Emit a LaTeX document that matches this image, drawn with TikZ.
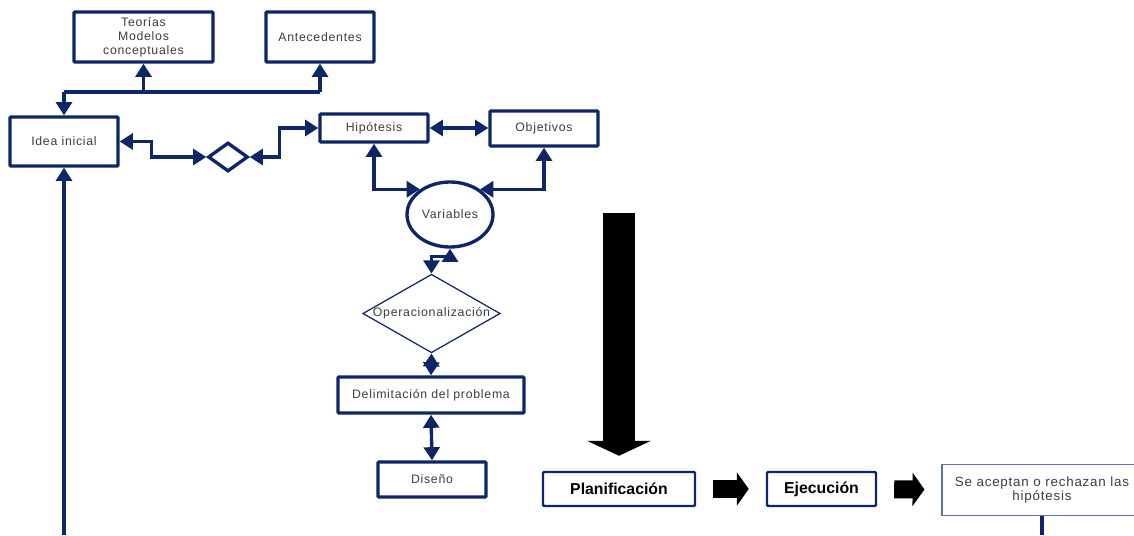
\documentclass[tikz,border=0pt]{standalone}
\usepackage{fontspec}
\setmainfont{Liberation Sans}
\newfontfamily\spaced{Liberation Sans}[LetterSpace=6]
\usetikzlibrary{
    arrows.meta,
    shapes.geometric,
    calc,
    positioning
}
\definecolor{navy}{RGB}{14,38,104}
\definecolor{txtgray}{RGB}{60,60,60}
\tikzset{
    box/.style={draw=navy, line width=1.9pt, rounded corners=0.6pt, inner sep=1pt,
        font=\spaced\fontsize{7}{8}\selectfont, text=txtgray, align=center},
    boldbox/.style={box, line width=1.4pt, font=\bfseries\fontsize{9}{10}\selectfont, text=black},
    thinbox/.style={box, draw=navy!65, line width=0.6pt, rounded corners=0pt},
    link/.style={draw=navy, line width=1.9pt},
    arr/.style={link, -{Triangle[width=9pt,length=7.5pt]}},
    dbl/.style={link, {Triangle[width=9pt,length=7.5pt]}-{Triangle[width=9pt,length=7.5pt]}},
    bigarrow/.style={line width=18.7pt, black, -{Triangle[width=36pt,length=8.5pt]}},
    blockarrow/.style={line width=10.2pt, black, -{Triangle[width=18.7pt,length=6.8pt]},
        shorten <=0.34cm, shorten >=0.34cm}
}

\begin{document}
\begin{tikzpicture}[x=0.02cm, y=-0.02cm]
    \useasboundingbox (0,0) rectangle (1134,535);
    \clip (0,0) rectangle (1134,535);
    \node[box, minimum width=2.78cm, minimum height=1cm] (teorias) at (143.5,37) {Teorías\\Modelos\\conceptuales};
    \node[box, minimum width=2.16cm, minimum height=1cm] (antec) at (320,37) {Antecedentes};
    \node[box, minimum width=2.16cm, minimum height=0.98cm] (idea) at (64,141.5) {Idea inicial};
    \node[diamond, draw=navy, line width=1.9pt, inner sep=0, minimum width=0.8cm, minimum height=0.58cm] (dec) at (228,157) {};
    \node[box, minimum width=2.16cm, minimum height=0.56cm] (hip) at (374,128) {Hipótesis};
    \node[box, minimum width=2.16cm, minimum height=0.7cm] (obj) at (544,128.5) {Objetivos};
    \node[box, ellipse, minimum width=1.72cm, minimum height=1.3cm, inner sep=0] (var) at (450,214.5) {Variables};
    \node[box, diamond, line width=0.7pt, rounded corners=0pt, inner sep=0, aspect=1.75, minimum width=2.66cm, minimum height=1.54cm] (oper) at (431.5,313.5) {Operacionalización};
    \node[box, minimum width=3.72cm, minimum height=0.72cm] (delim) at (431,395) {Delimitación del problema};
    \node[box, minimum width=2.16cm, minimum height=0.7cm] (diseno) at (432,479.5) {Diseño};
    \node[boldbox, minimum width=3.04cm, minimum height=0.68cm] (plan) at (619,489) {Planificación};
    \node[boldbox, minimum width=2.18cm, minimum height=0.68cm] (ejec) at (821.5,489) {Ejecución};
    \node[thinbox, minimum width=4cm, minimum height=1.02cm, font=\spaced\fontsize{7.6}{8}\selectfont, anchor=north] (acept) at (1042,464) {Se aceptan o rechazan las\\hipótesis};
    \coordinate (bus) at (64,92);
    \draw[arr] (bus) -- (idea.north);
    \draw[link] (bus) -- (bus -| antec.south);
    \draw[arr] (bus -| teorias.south) -- (teorias.south);
    \draw[arr] (bus -| antec.south) -- (antec.south);
    \draw[dbl] (idea.east) -- ++(32,0) |- (dec.west);
    \draw[dbl] (dec.east) -- ++(30,0) |- (hip.west);
    \draw[dbl] (hip.east) -- (obj.west |- hip.east);
    \draw[dbl] (hip.south) |- (var.140);
    \draw[dbl] (obj.south) |- (var.40);
    \draw[dbl] (oper.north) -- ++(0,-17) -| (var.south);
    \draw[dbl] (oper.south) -- (delim.north);
    \draw[dbl] (delim.south) -- (diseno.north);
    \coordinate (idealow) at (64,535);
    \draw[arr] (idealow) -- (idea.south);
    \coordinate (bigtop) at (619,213);
    \draw[bigarrow, shorten >=0.3cm] (bigtop) -- (plan.north);
    \draw[blockarrow] (plan) -- (ejec);
    \draw[blockarrow] (ejec) -- (acept);
    \coordinate (aceptlow) at (1042,535);
    \draw[link] (acept.south) -- (aceptlow);
\end{tikzpicture}
\end{document}
